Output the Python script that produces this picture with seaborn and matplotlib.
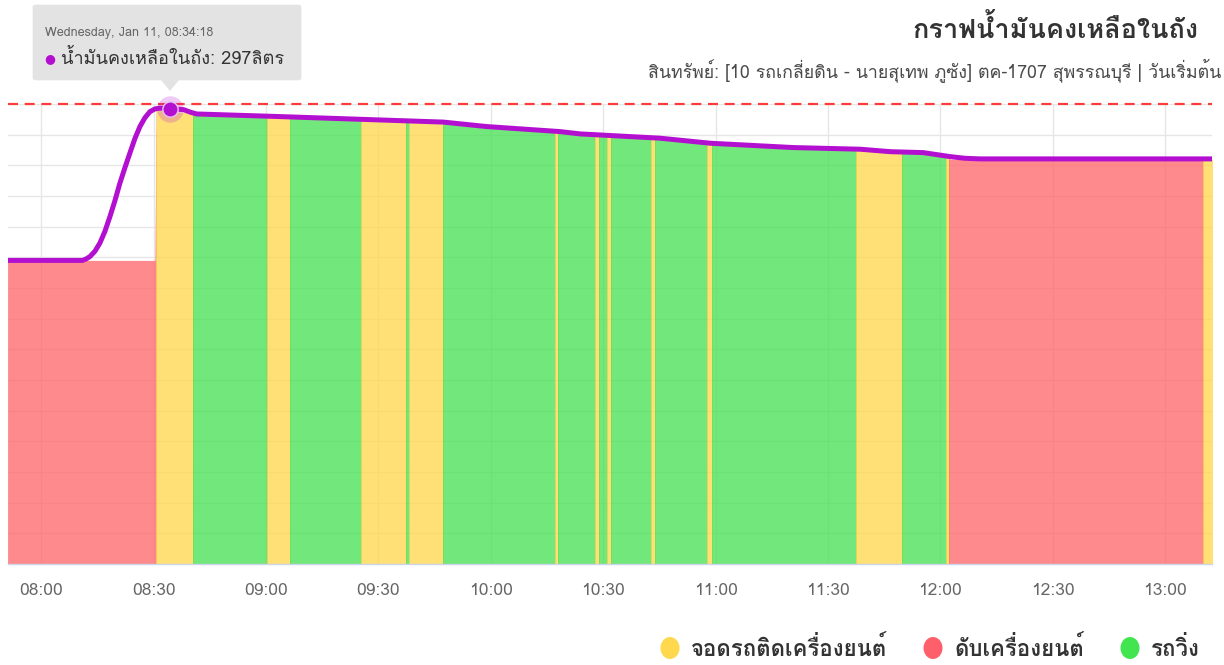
import numpy as np
import pandas as pd
import matplotlib
matplotlib.use("Agg")
import matplotlib.pyplot as plt
import matplotlib.dates as mdates
from matplotlib.patches import Rectangle, FancyBboxPatch, Polygon, Ellipse
from matplotlib import font_manager, ft2font
import seaborn as sns

# ---------------- data ----------------
DAY = "2023-01-11 "
# smoothed fuel-level line (litres)
line_times = ["07:51:00", "08:11:00", "08:12:00", "08:13:00", "08:14:20", "08:15:40",
              "08:17:00", "08:18:20", "08:19:40", "08:21:00", "08:22:20", "08:23:40",
              "08:25:00", "08:26:20", "08:27:40", "08:29:00", "08:30:20", "08:31:40",
              "08:34:18", "08:38:00", "08:40:00", "08:41:30", "09:03:40", "09:47:20",
              "09:58:50", "10:18:30", "10:23:50", "10:45:10", "10:58:40", "11:20:40",
              "11:38:40", "11:46:40", "11:55:25", "12:02:35", "12:06:30", "12:10:35",
              "13:12:40"]
line_values = [198, 198, 199, 200.5, 204, 209.4, 217, 226.6, 237, 248.5, 258.5, 268.1,
               277.5, 285.3, 291, 295, 296.8, 297.3, 297, 296.3, 294.5, 293.5, 291.8,
               288.2, 285.3, 282.0, 280.5, 277.7, 274.4, 271.6, 270.5, 268.9, 268.3,
               265.7, 264.6, 264.2, 264.2]

# raw fuel level under the state areas (litres)
area_times = ["07:51:00", "08:30:20", "08:30:40", "08:40:30", "09:06:00", "09:47:00",
              "09:59:00", "10:18:30", "10:40:00", "10:58:00", "11:20:00", "11:37:00",
              "11:50:00", "12:01:30", "12:02:30", "13:12:40"]
area_values = [198, 198, 296, 294, 291.5, 287.5, 285, 281.5, 278, 274.5, 271.5, 270.5,
               268.5, 266.5, 264, 264]

# engine / vehicle state periods
state_starts = ["07:51:00", "08:30:30", "08:40:30", "09:00:20", "09:06:25", "09:25:22",
                "09:37:18", "09:38:16", "09:47:11", "10:17:10", "10:18:03", "10:27:51",
                "10:29:00", "10:30:58", "10:32:02", "10:42:48", "10:43:52", "10:57:40",
                "10:59:01", "11:37:32", "11:49:44", "12:01:34", "12:02:22", "13:10:07"]
state_end = "13:12:40"
state_codes = ["off", "idle", "run", "idle", "run", "idle", "run", "idle", "run", "idle",
               "run", "idle", "run", "idle", "run", "idle", "run", "idle", "run", "idle",
               "run", "idle", "off", "idle"]

legend_labels = {"idle": "จอดรถติดเครื่องยนต์", "off": "ดับเครื่องยนต์", "run": "รถวิ่ง"}
legend_order = ["idle", "off", "run"]
tank_capacity = 300
tooltip_time = "08:34:18"
tooltip_value = 297

title_text = "กราฟน้ำมันคงเหลือในถัง"
subtitle_text = "สินทรัพย์: [10 รถเกลี่ยดิน - นายสุเทพ ภูซัง] ตค-1707 สุพรรณบุรี | วันเริ่มต้น"
series_name = "น้ำมันคงเหลือในถัง"

# ---------------- style ----------------
sns.set_theme(style="white")


def find_thai_family():
    seen = set()
    cands = []
    for f in font_manager.fontManager.ttflist:
        if f.fname in seen:
            continue
        seen.add(f.fname)
        try:
            ft = ft2font.FT2Font(f.fname)
            cm = ft.get_charmap()
            if 0x0E01 in cm and 0x0E49 in cm:
                cands.append(f.name)
        except Exception:
            pass
    return cands


thai = find_thai_family()
fam = []
for n in thai:
    if n not in fam:
        fam.append(n)
plt.rcParams["font.family"] = fam[:1] + ["DejaVu Sans"]

state_colors = {"idle": "#FFD64A", "off": "#FF6369", "run": "#43E04F"}
legend_colors = {"idle": "#FFD84D", "off": "#FF5F6B", "run": "#42E54F"}
purple = "#B30FD0"

W, H = 1224, 665
fig = plt.figure(figsize=(W / 100, H / 100), dpi=100)
ax = fig.add_axes([8 / W, (H - 564) / H, 1204 / W, 460 / H])

to_dt = lambda lst: pd.to_datetime([DAY + t for t in lst])
lt = to_dt(line_times)
at = to_dt(area_times)
st = to_dt(state_starts + [state_end])

# state areas, each clipped to its own period
for i, code in enumerate(state_codes):
    x0 = mdates.date2num(st[i])
    x1 = mdates.date2num(st[i + 1])
    poly = ax.fill_between(at, 0, area_values, color=state_colors[code], alpha=0.75,
                           linewidth=0, zorder=2)
    rect = Rectangle((x0, 0), x1 - x0, 400, transform=ax.transData)
    poly.set_clip_path(rect)

# purple fuel line
df = pd.DataFrame({"time": lt, "level": line_values})
sns.lineplot(data=df, x="time", y="level", ax=ax, color=purple, linewidth=3.6,
             zorder=5, solid_joinstyle="round", solid_capstyle="round")

# capacity line
ax.axhline(tank_capacity, color="#FF3B3B", linewidth=1.6, dashes=(4.5, 3), zorder=4,
           clip_on=False)

# highlighted point
tt = pd.to_datetime(DAY + tooltip_time)
ax.plot([tt], [tooltip_value], marker="o", markersize=19, color=purple, alpha=0.22,
        zorder=6, markeredgewidth=0, clip_on=False)
ax.plot([tt], [tooltip_value], marker="o", markersize=11, color=purple, zorder=7,
        markeredgecolor="#E9C3F2", markeredgewidth=1.0, clip_on=False)

ax.set_xlim(mdates.date2num(pd.to_datetime(DAY + "07:51:07")),
            mdates.date2num(pd.to_datetime(DAY + "13:12:31")))
ax.set_ylim(0, 300)
ax.set_yticks(np.arange(0, 301, 20))
ax.set_yticklabels([])
ax.tick_params(axis="y", length=0)
ax.xaxis.set_major_locator(mdates.MinuteLocator(byminute=[0, 30]))
ax.xaxis.set_major_formatter(mdates.DateFormatter("%H:%M"))
ax.tick_params(axis="x", length=7, width=1, color="#CCD6EB", labelcolor="#666666",
               labelsize=12.5, pad=7)
ax.grid(True, color="#E6E6E6", linewidth=1)
ax.set_axisbelow(True)
ax.set_xlabel("")
ax.set_ylabel("")
for s in ["top", "left", "right"]:
    ax.spines[s].set_visible(False)
ax.spines["bottom"].set_color("#CCD6EB")
ax.spines["bottom"].set_linewidth(1)
ax.spines["bottom"].set_zorder(8)


def P(x, y):
    return (x / W, 1 - y / H)


# titles
fig.text(*P(1198, 29), title_text, ha="right", va="center", fontsize=19.5,
         fontweight="bold", color="#333333")
fig.text(*P(1221, 70), subtitle_text, ha="right", va="center", fontsize=12.8,
         color="#4A4A4A")

# tooltip
box = FancyBboxPatch(P(33, 80), (301 - 33) / W, (80 - 5) / H,
                     boxstyle="round,pad=0,rounding_size=0.003",
                     transform=fig.transFigure, facecolor="#E3E3E3",
                     edgecolor="#E3E3E3", linewidth=0.5, zorder=20)
fig.add_artist(box)
tri = Polygon([P(161, 80), P(179, 80), P(170, 91)], closed=True,
              transform=fig.transFigure, facecolor="#E3E3E3", edgecolor="none",
              zorder=20)
fig.add_artist(tri)
fig.text(*P(45, 33), "Wednesday, Jan 11, 08:34:18", ha="left", va="center",
         fontsize=9, color="#666666", zorder=21)
fig.text(*P(50, 59), "●", ha="center", va="center", fontsize=9, color=purple,
         zorder=21, family="DejaVu Sans")
fig.text(*P(61, 58), f"{series_name}: {tooltip_value}ลิตร", ha="left", va="center",
         fontsize=13, color="#333333", zorder=21)

# legend
leg_x = {"idle": 670, "off": 933, "run": 1130}
for code in legend_order:
    x = leg_x[code]
    e = Ellipse(P(x, 648), 19 / W, 22 / H, transform=fig.transFigure,
                facecolor=legend_colors[code], edgecolor="none")
    fig.add_artist(e)
    fig.text(*P(x + 21, 648), legend_labels[code], ha="left", va="center",
             fontsize=16, fontweight="bold", color="#333333")

fig.savefig("out.png", dpi=100)
